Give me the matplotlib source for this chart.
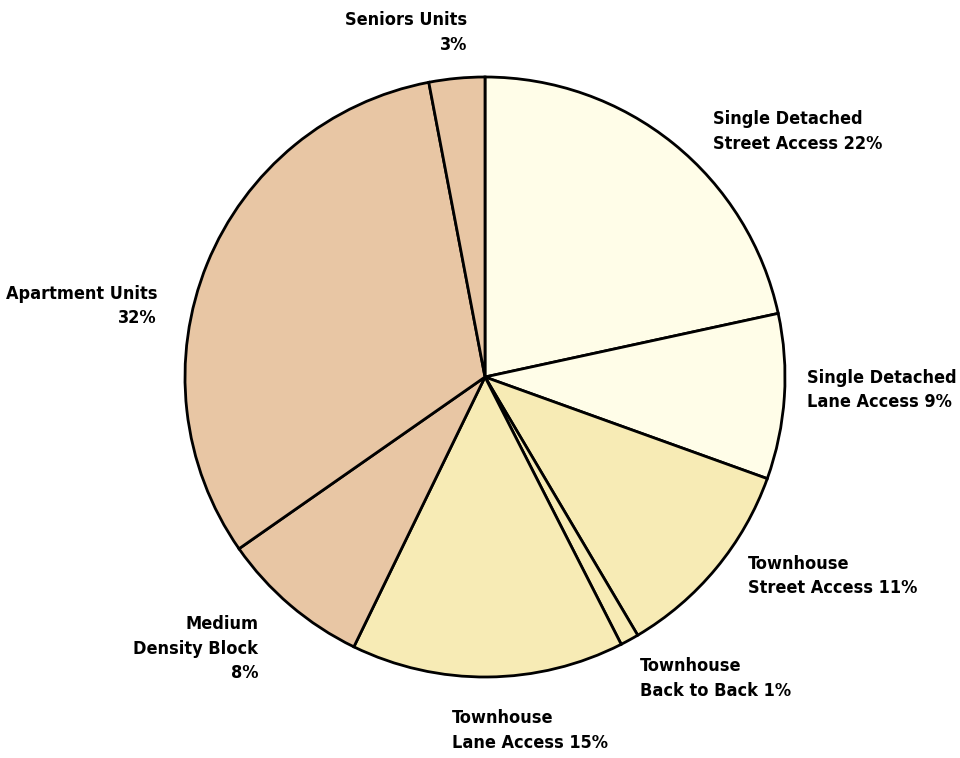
import matplotlib
matplotlib.use("Agg")
import matplotlib.pyplot as plt
from matplotlib import font_manager
from matplotlib.textpath import TextPath
from matplotlib.font_manager import FontProperties

# housing mix shares (%), clockwise from 12 o'clock
categories = ["Single Detached\nStreet Access", "Single Detached\nLane Access",
              "Townhouse\nStreet Access", "Townhouse\nBack to Back",
              "Townhouse\nLane Access", "Medium\nDensity Block",
              "Apartment Units", "Seniors Units"]
shares = [21.6, 8.9, 11.0, 1.0, 14.7, 8.1, 31.7, 3.0]
label_text = ["Single Detached\nStreet Access 22%", "Single Detached\nLane Access 9%",
              "Townhouse\nStreet Access 11%", "Townhouse\nBack to Back 1%",
              "Townhouse\nLane Access 15%", "Medium\nDensity Block\n8%",
              "Apartment Units\n32%", "Seniors Units\n3%"]
colors = ["#FFFDE8", "#FFFDE8", "#F7EBB5", "#F7EBB5", "#F7EBB5",
          "#E8C6A4", "#E8C6A4", "#E8C6A4"]

# label block centre (pixels) and alignment
label_pos = [(713, 131.5, "left"), (807, 390, "left"), (748, 576, "left"),
             (640, 678.5, "left"), (452, 730.5, "left"), (258, 648.5, "right"),
             (157, 306, "right"), (467, 32.5, "right")]

# pick a narrow bold face if one is installed
fonts = font_manager.fontManager.ttflist
fam, stretch = "Liberation Sans", "normal"
for f in fonts:
    if f.name == "Liberation Sans Narrow":
        fam, stretch = f.name, "normal"
        break
else:
    for f in fonts:
        if f.name == "DejaVu Sans" and f.stretch in ("condensed", 700, "semi-condensed"):
            fam, stretch = "DejaVu Sans", "condensed"
            break

# size the text so "Single Detached" is ~147 px wide like the reference
probe = TextPath((0, 0), "Single Detached", size=10,
                 prop=FontProperties(family=fam, weight="bold", stretch=stretch))
w10 = probe.get_extents().width * 100 / 72
fsize = 10 * 147 / w10
lsp = 27 / (fsize * 100 / 72)

fig = plt.figure(figsize=(9.6, 7.58), dpi=100)
ax = fig.add_axes([0, 0, 1, 1])
cx, cy, r = 485, 377, 300

ax.pie(shares, colors=colors, startangle=90, counterclock=False, radius=1,
       wedgeprops=dict(edgecolor="black", linewidth=2))
ax.set_xlim(-cx / r, (960 - cx) / r)
ax.set_ylim((cy - 758) / r, cy / r)
ax.set_aspect("equal")
ax.axis("off")

for txt, (px, py, ha) in zip(label_text, label_pos):
    ax.text((px - cx) / r, (cy - py) / r, txt, ha=ha, va="center",
            multialignment=ha, fontsize=fsize, fontweight="bold",
            family=fam, fontstretch=stretch, linespacing=lsp)

fig.savefig("out.png", dpi=100, facecolor="white")
